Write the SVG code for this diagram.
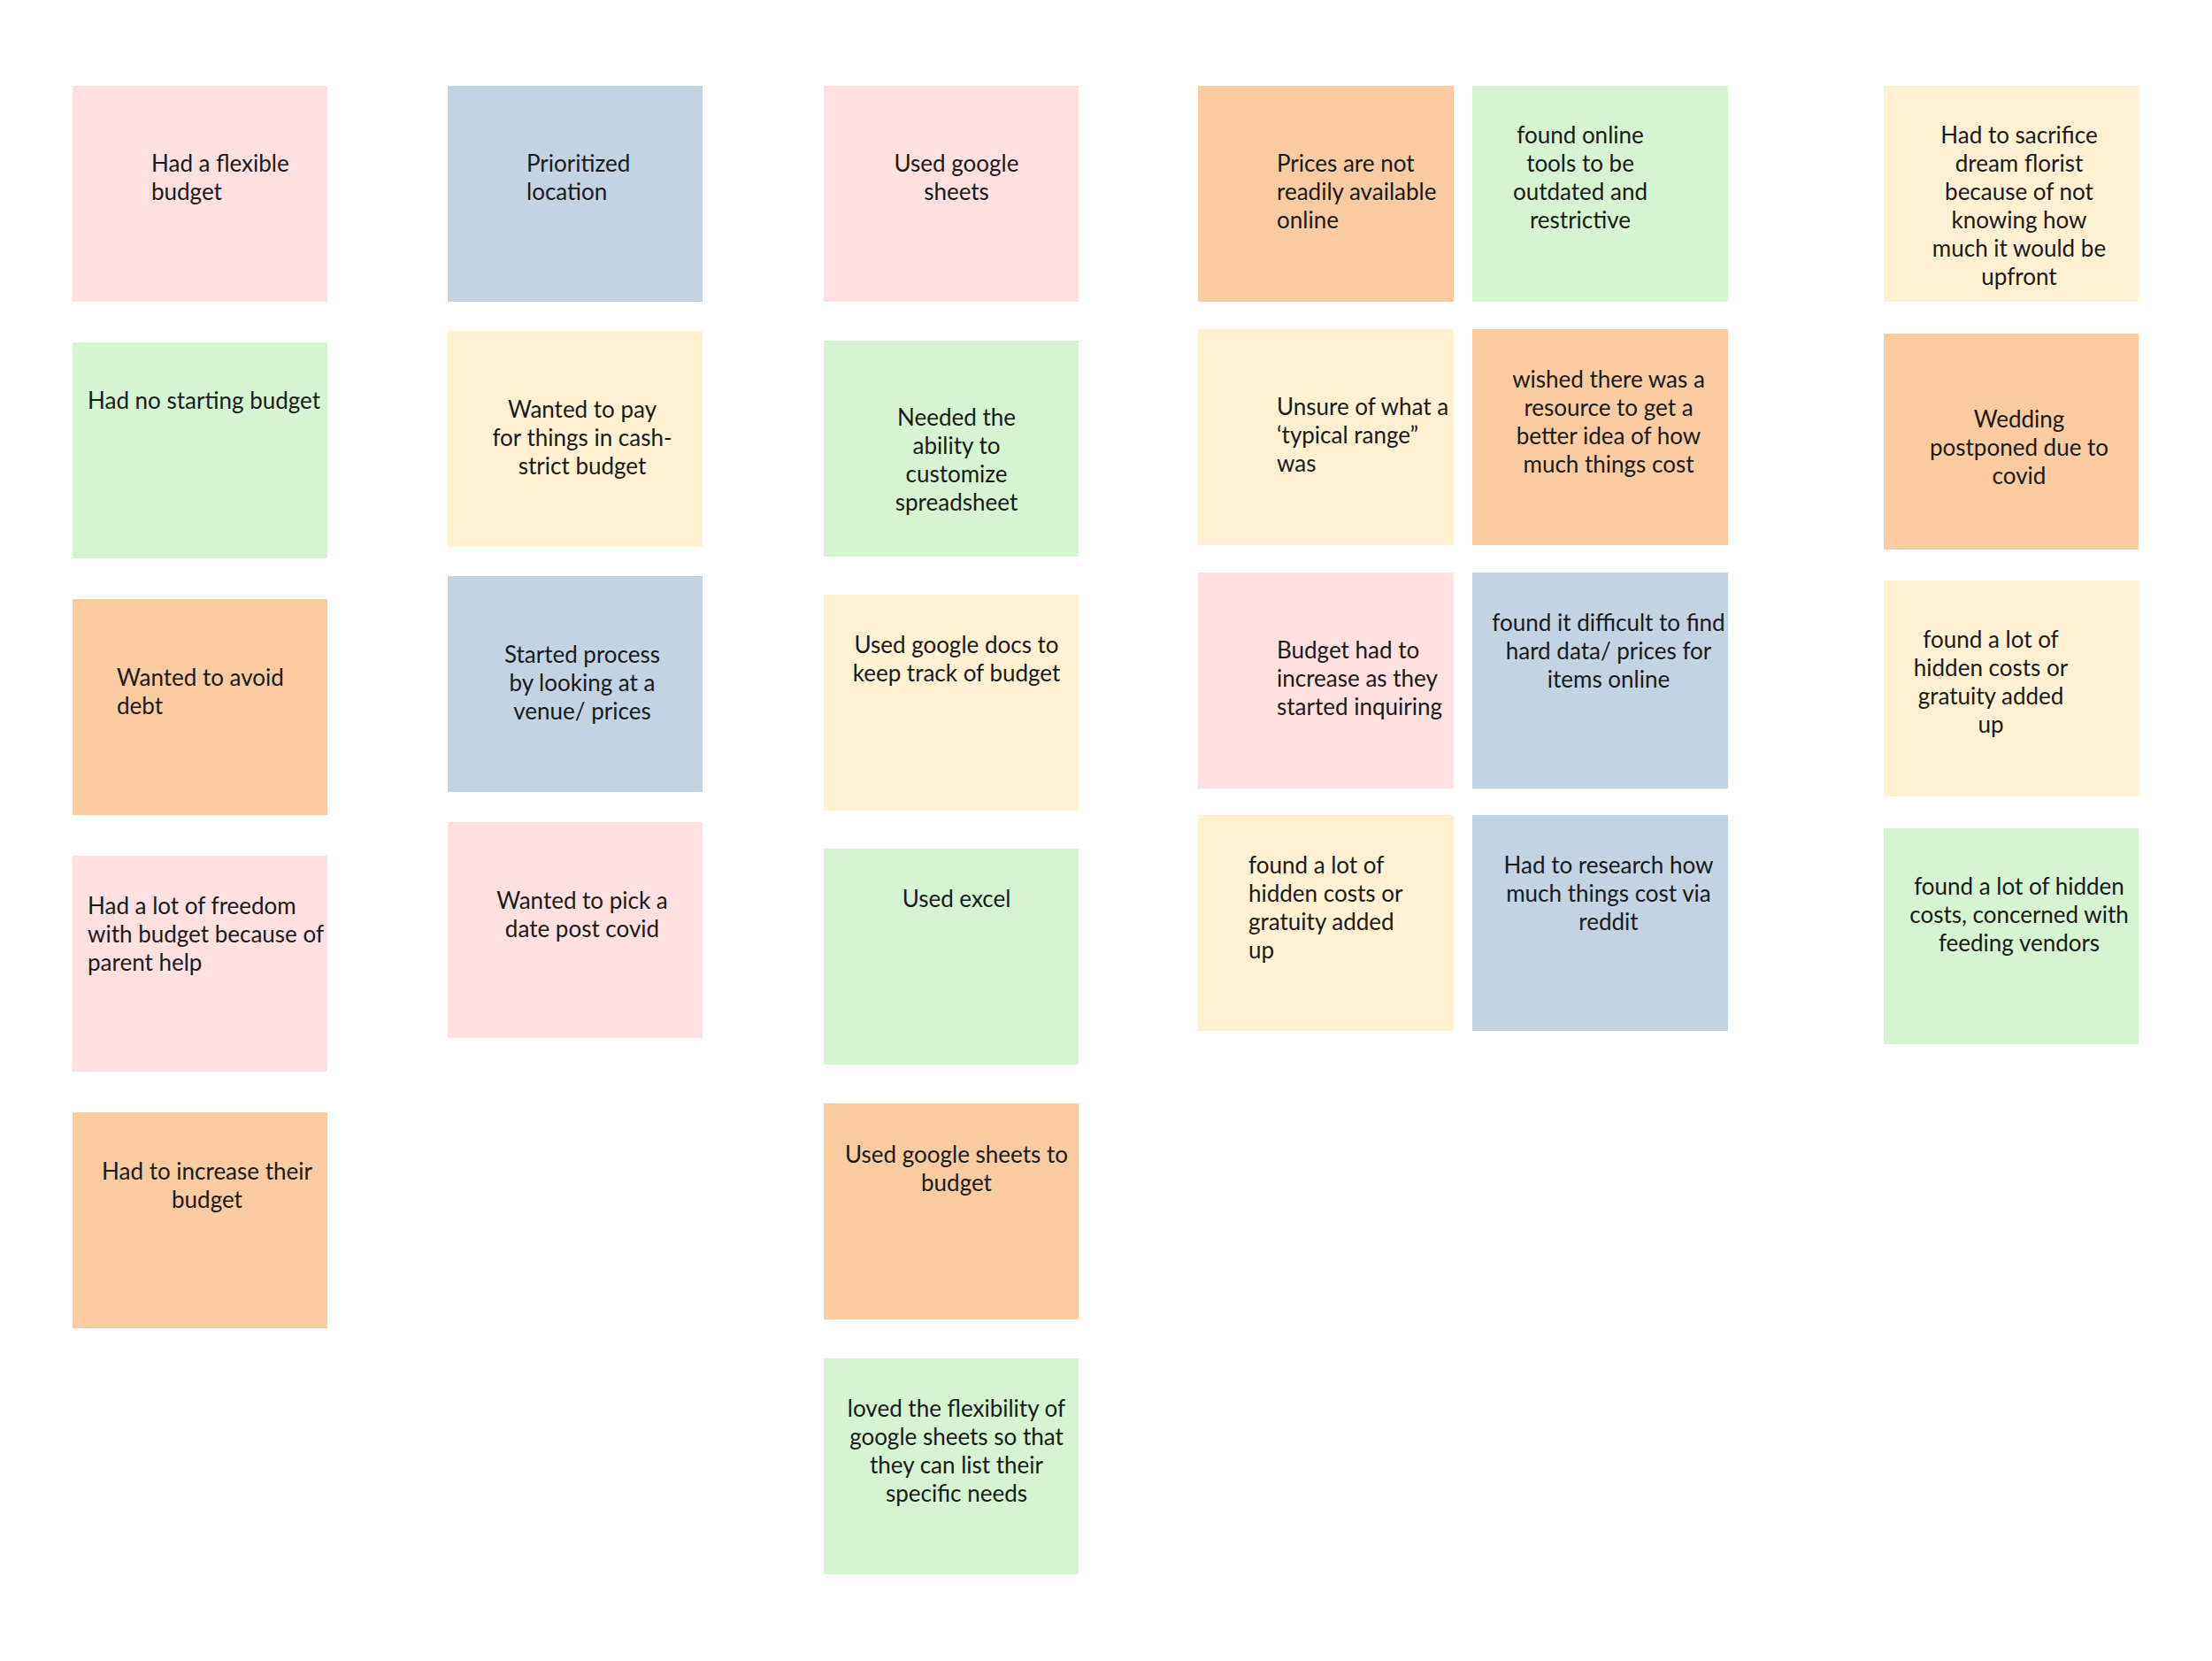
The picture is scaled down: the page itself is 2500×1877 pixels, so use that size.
<svg xmlns="http://www.w3.org/2000/svg" width="2500" height="1877" viewBox="0 0 2500 1877">
<style>
text{font-family:Lato,"Noto Sans",sans-serif;font-size:26px;fill:#1a1a1a}
.c{text-anchor:middle}
.pink{fill:#FFE0E1}.green{fill:#D7F4D2}.orange{fill:#FCCB9F}.yellow{fill:#FFF1D2}.blue{fill:#C3D3E2}
</style>
<rect width="2500" height="1877" fill="#fff"/>
<g id="connectors"/>
<g transform="translate(0,2)">
<!-- Column 1 -->
<g id="n1"><rect class="pink" x="82" y="95" width="288" height="244"/><text x="171" y="192"><tspan x="171">Had a flexible</tspan><tspan x="171" dy="32">budget</tspan></text></g>
<g id="n2"><rect class="green" x="82" y="385" width="288" height="244"/><text x="99" y="460">Had no starting budget</text></g>
<g id="n3"><rect class="orange" x="82" y="675" width="288" height="244"/><text x="132" y="773"><tspan x="132">Wanted to avoid</tspan><tspan x="132" dy="32">debt</tspan></text></g>
<g id="n4"><rect class="pink" x="82" y="965" width="288" height="244"/><text x="99" y="1031"><tspan x="99">Had a lot of freedom</tspan><tspan x="99" dy="32">with budget because of</tspan><tspan x="99" dy="32">parent help</tspan></text></g>
<g id="n5"><rect class="orange" x="82" y="1255" width="288" height="244"/><text class="c" x="234" y="1331"><tspan x="234">Had to increase their</tspan><tspan x="234" dy="32">budget</tspan></text></g>
<!-- Column 2 -->
<g id="n6"><rect class="blue" x="506" y="95" width="288" height="244"/><text x="595" y="192"><tspan x="595">Prioritized</tspan><tspan x="595" dy="32">location</tspan></text></g>
<g id="n7"><rect class="yellow" x="506" y="372" width="288" height="244"/><text class="c" x="658" y="470"><tspan x="658">Wanted to pay</tspan><tspan x="658" dy="32">for things in cash-</tspan><tspan x="658" dy="32">strict budget</tspan></text></g>
<g id="n8"><rect class="blue" x="506" y="649" width="288" height="244"/><text class="c" x="658" y="747"><tspan x="658">Started process</tspan><tspan x="658" dy="32">by looking at a</tspan><tspan x="658" dy="32">venue/ prices</tspan></text></g>
<g id="n9"><rect class="pink" x="506" y="927" width="288" height="244"/><text class="c" x="658" y="1025"><tspan x="658">Wanted to pick a</tspan><tspan x="658" dy="32">date post covid</tspan></text></g>
<!-- Column 3 -->
<g id="n10"><rect class="pink" x="931" y="95" width="288" height="244"/><text class="c" x="1081" y="192"><tspan x="1081">Used google</tspan><tspan x="1081" dy="32">sheets</tspan></text></g>
<g id="n11"><rect class="green" x="931" y="383" width="288" height="244"/><text class="c" x="1081" y="479"><tspan x="1081">Needed the</tspan><tspan x="1081" dy="32">ability to</tspan><tspan x="1081" dy="32">customize</tspan><tspan x="1081" dy="32">spreadsheet</tspan></text></g>
<g id="n12"><rect class="yellow" x="931" y="670" width="288" height="244"/><text class="c" x="1081" y="736"><tspan x="1081">Used google docs to</tspan><tspan x="1081" dy="32">keep track of budget</tspan></text></g>
<g id="n13"><rect class="green" x="931" y="957" width="288" height="244"/><text class="c" x="1081" y="1023">Used excel</text></g>
<g id="n14"><rect class="orange" x="931" y="1245" width="288" height="244"/><text class="c" x="1081" y="1312"><tspan x="1081">Used google sheets to</tspan><tspan x="1081" dy="32">budget</tspan></text></g>
<g id="n15"><rect class="green" x="931" y="1533" width="288" height="244"/><text class="c" x="1081" y="1599"><tspan x="1081">loved the flexibility of</tspan><tspan x="1081" dy="32">google sheets so that</tspan><tspan x="1081" dy="32">they can list their</tspan><tspan x="1081" dy="32">specific needs</tspan></text></g>
<!-- Column 4a -->
<g id="n16"><rect class="orange" x="1354" y="95" width="289" height="244"/><text x="1443" y="192"><tspan x="1443">Prices are not</tspan><tspan x="1443" dy="32">readily available</tspan><tspan x="1443" dy="32">online</tspan></text></g>
<g id="n17"><rect class="yellow" x="1354" y="370" width="289" height="244"/><text x="1443" y="467"><tspan x="1443">Unsure of what a</tspan><tspan x="1443" dy="32">‘typical range”</tspan><tspan x="1443" dy="32">was</tspan></text></g>
<g id="n18"><rect class="pink" x="1354" y="645" width="289" height="244"/><text x="1443" y="742"><tspan x="1443">Budget had to</tspan><tspan x="1443" dy="32">increase as they</tspan><tspan x="1443" dy="32">started inquiring</tspan></text></g>
<g id="n19"><rect class="yellow" x="1354" y="919" width="289" height="244"/><text x="1411" y="985"><tspan x="1411">found a lot of</tspan><tspan x="1411" dy="32">hidden costs or</tspan><tspan x="1411" dy="32">gratuity added</tspan><tspan x="1411" dy="32">up</tspan></text></g>
<!-- Column 4b -->
<g id="n20"><rect class="green" x="1664" y="95" width="289" height="244"/><text class="c" x="1786" y="160"><tspan x="1786">found online</tspan><tspan x="1786" dy="32">tools to be</tspan><tspan x="1786" dy="32">outdated and</tspan><tspan x="1786" dy="32">restrictive</tspan></text></g>
<g id="n21"><rect class="orange" x="1664" y="370" width="289" height="244"/><text class="c" x="1818" y="436"><tspan x="1818">wished there was a</tspan><tspan x="1818" dy="32">resource to get a</tspan><tspan x="1818" dy="32">better idea of how</tspan><tspan x="1818" dy="32">much things cost</tspan></text></g>
<g id="n22"><rect class="blue" x="1664" y="645" width="289" height="244"/><text class="c" x="1818" y="711"><tspan x="1818">found it difficult to find</tspan><tspan x="1818" dy="32">hard data/ prices for</tspan><tspan x="1818" dy="32">items online</tspan></text></g>
<g id="n23"><rect class="blue" x="1664" y="919" width="289" height="244"/><text class="c" x="1818" y="985"><tspan x="1818">Had to research how</tspan><tspan x="1818" dy="32">much things cost via</tspan><tspan x="1818" dy="32">reddit</tspan></text></g>
<!-- Column 5 -->
<g id="n24"><rect class="yellow" x="2129" y="95" width="288" height="244"/><text class="c" x="2282" y="160"><tspan x="2282">Had to sacrifice</tspan><tspan x="2282" dy="32">dream florist</tspan><tspan x="2282" dy="32">because of not</tspan><tspan x="2282" dy="32">knowing how</tspan><tspan x="2282" dy="32">much it would be</tspan><tspan x="2282" dy="32">upfront</tspan></text></g>
<g id="n25"><rect class="orange" x="2129" y="375" width="288" height="244"/><text class="c" x="2282" y="481"><tspan x="2282">Wedding</tspan><tspan x="2282" dy="32">postponed due to</tspan><tspan x="2282" dy="32">covid</tspan></text></g>
<g id="n26"><rect class="yellow" x="2129" y="654" width="288" height="244"/><text class="c" x="2250" y="730"><tspan x="2250">found a lot of</tspan><tspan x="2250" dy="32">hidden costs or</tspan><tspan x="2250" dy="32">gratuity added</tspan><tspan x="2250" dy="32">up</tspan></text></g>
<g id="n27"><rect class="green" x="2129" y="934" width="288" height="244"/><text class="c" x="2282" y="1009"><tspan x="2282">found a lot of hidden</tspan><tspan x="2282" dy="32">costs, concerned with</tspan><tspan x="2282" dy="32">feeding vendors</tspan></text></g>
</g>
</svg>
